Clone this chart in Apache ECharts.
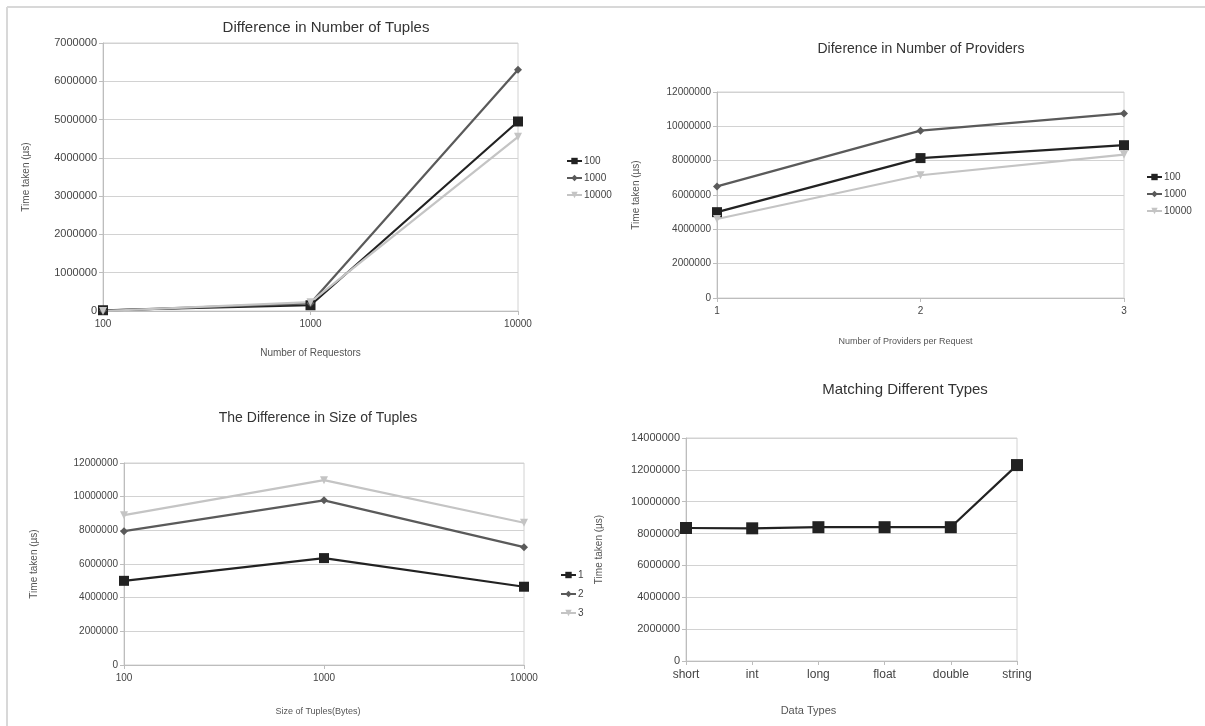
<!DOCTYPE html>
<html>
<head>
<meta charset="utf-8">
<script src="https://cdn.jsdelivr.net/npm/echarts@6/dist/echarts.min.js"></script>
<style>
html,body{margin:0;padding:0;background:#fff;}
#c{width:1205px;height:726px;}
</style>
</head>
<body>
<div id="c"></div>
<script>
// ---- Data ----
var tuplesCats = ['100', '1000', '10000'];
var tuples100 = [20000, 150000, 4950000];
var tuples1000 = [10000, 200000, 6300000];
var tuples10000 = [0, 230000, 4550000];

var provCats = ['1', '2', '3'];
var prov100 = [5000000, 8150000, 8900000];
var prov1000 = [6500000, 9750000, 10750000];
var prov10000 = [4600000, 7150000, 8350000];

var sizeCats = ['100', '1000', '10000'];
var size1 = [5000000, 6350000, 4650000];
var size2 = [7950000, 9780000, 7000000];
var size3 = [8900000, 10980000, 8450000];

var typeCats = ['short', 'int', 'long', 'float', 'double', 'string'];
var typeVals = [8350000, 8330000, 8400000, 8400000, 8400000, 12300000];

// ---- Styles ----
var FONT = 'Liberation Sans, Arial, sans-serif';
var C_BLACK = '#222222', C_DARK = '#5a5a5a', C_LIGHT = '#c4c4c4';
var GRID_C = '#d2d2d2';

function yAxis(gi, max, interval, nameGap, fs) {
  return {
    type: 'value', gridIndex: gi, min: 0, max: max, interval: interval,
    name: 'Time taken (\u00b5s)', nameLocation: 'middle', nameGap: nameGap,
    nameTextStyle: {fontFamily: FONT, fontSize: 10, color: '#555'},
    axisLine: {show: true, lineStyle: {color: '#bdbdbd'}},
    axisTick: {show: true, length: 4, lineStyle: {color: '#bdbdbd'}},
    axisLabel: {fontFamily: FONT, fontSize: fs, color: '#444', margin: 6,
      formatter: function (v) { return String(v); }},
    splitLine: {show: true, lineStyle: {color: GRID_C, width: 1}}
  };
}
function xAxis(gi, cats, name, nameGap, fs, nfs, shiftLeft) {
  return {
    type: 'category', gridIndex: gi, data: cats, boundaryGap: false,
    name: name, nameLocation: 'middle', nameGap: nameGap,
    nameTextStyle: {fontFamily: FONT, fontSize: nfs, color: '#555',
      padding: [0, 2 * (shiftLeft || 0), 0, 0]},
    axisLine: {show: true, lineStyle: {color: '#bdbdbd'}},
    axisTick: {show: true, length: 4, alignWithLabel: true, lineStyle: {color: '#bdbdbd'}},
    axisLabel: {fontFamily: FONT, fontSize: fs, color: '#444', margin: 8},
    splitLine: {show: false}
  };
}
function line(name, data, gi, kind, size) {
  var color = kind === 0 ? C_BLACK : (kind === 1 ? C_DARK : C_LIGHT);
  var symbol = kind === 0 ? 'rect' : (kind === 1 ? 'diamond' : 'triangle');
  return {
    type: 'line', name: name, data: data, xAxisIndex: gi, yAxisIndex: gi,
    symbol: symbol, symbolSize: size || 8,
    symbolRotate: kind === 2 ? 180 : 0, showAllSymbol: true,
    lineStyle: {color: color, width: 2.2}, itemStyle: {color: color},
    emphasis: {disabled: true}, animation: false
  };
}
function title(text, cx, cy, fs) {
  return {text: text, left: cx, top: cy, textAlign: 'center', textVerticalAlign: 'middle', padding: 0,
    textStyle: {fontFamily: FONT, fontSize: fs, fontWeight: 'normal', color: '#333'}};
}
function legend(names, left, top, gap) {
  return {data: names, orient: 'vertical', left: left, top: top, itemGap: gap,
    itemWidth: 15, itemHeight: 8, padding: 0, selectedMode: false,
    textStyle: {fontFamily: FONT, fontSize: 10, color: '#444', padding: [0, 0, 0, -3]}};
}

var option = {
  backgroundColor: '#ffffff',
  animation: false,
  title: [
    title('Difference in Number of Tuples', 326, 28, 15),
    title('Diference in Number of Providers', 921, 49, 14),
    title('The Difference in Size of Tuples', 318, 418, 14),
    title('Matching Different Types', 905, 390, 15)
  ],
  legend: [
    legend(['100', '1000', '10000'], 566, 156, 7),
    legend(['100', '1000', '10000'], 1146, 172, 7),
    legend(['1', '2', '3'], 560, 570, 9)
  ],
  grid: [
    {left: 103, top: 43, width: 415, height: 268, show: true, borderColor: GRID_C, borderWidth: 1},
    {left: 717, top: 92, width: 407, height: 206, show: true, borderColor: GRID_C, borderWidth: 1},
    {left: 124, top: 463, width: 400, height: 202, show: true, borderColor: GRID_C, borderWidth: 1},
    {left: 686, top: 438, width: 331, height: 223, show: true, borderColor: GRID_C, borderWidth: 1}
  ],
  xAxis: [
    xAxis(0, tuplesCats, 'Number of Requestors', 37, 10, 10, 0),
    xAxis(1, provCats, 'Number of Providers per Request', 39, 10, 9, 15),
    xAxis(2, sizeCats, 'Size of Tuples(Bytes)', 42, 10, 9, 6),
    xAxis(3, typeCats, 'Data Types', 44, 12, 11, 43)
  ],
  yAxis: [
    yAxis(0, 7000000, 1000000, 72, 11),
    yAxis(1, 12000000, 2000000, 76, 10),
    yAxis(2, 12000000, 2000000, 85, 10),
    yAxis(3, 14000000, 2000000, 82, 11)
  ],
  series: [
    line('100', tuples100, 0, 0, 10),
    line('1000', tuples1000, 0, 1, 8),
    line('10000', tuples10000, 0, 2, 8),
    line('100', prov100, 1, 0, 10),
    line('1000', prov1000, 1, 1, 8),
    line('10000', prov10000, 1, 2, 8),
    line('1', size1, 2, 0, 10),
    line('2', size2, 2, 1, 8),
    line('3', size3, 2, 2, 8),
    line('Matching', typeVals, 3, 0, 12)
  ],
  graphic: [
    {type: 'line', shape: {x1: 7, y1: 7, x2: 1205, y2: 7}, style: {stroke: '#d8d8d8', lineWidth: 2}, silent: true},
    {type: 'line', shape: {x1: 7, y1: 7, x2: 7, y2: 726}, style: {stroke: '#d8d8d8', lineWidth: 2}, silent: true}
  ]
};
var chart = echarts.init(document.getElementById('c'), null, {renderer: 'canvas'});
chart.setOption(option);
</script>
</body>
</html>
